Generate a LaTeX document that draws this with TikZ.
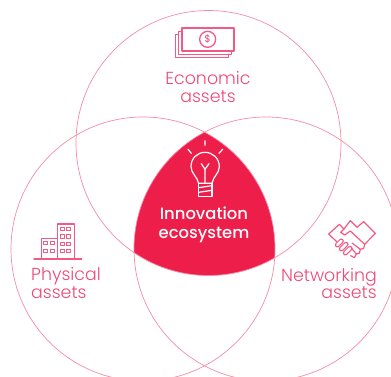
\documentclass[tikz,border=0pt]{standalone}
\usepackage{fontspec}
\setmainfont{Poppins Light}
\newfontfamily\boldish{Poppins Medium}
\definecolor{hot}{HTML}{EE1E4B}
\definecolor{ring}{HTML}{F28DA8}
\definecolor{ink}{HTML}{EE4A76}
\definecolor{icon}{HTML}{F25A84}
\tikzset{
  ringline/.style={draw=ring,line width=0.7pt},
  lab/.style={text=ink,font=\fontsize{17.4}{18}\selectfont,anchor=base,inner sep=0pt},
  core/.style={text=white,font=\boldish\fontsize{16.4}{18}\selectfont,anchor=base,inner sep=0pt},
  iconline/.style={draw=icon,line width=1.2pt,line join=round,line cap=round},
  bulbline/.style={draw=white,line width=1.2pt,line join=round,line cap=round},
  capouter/.style={draw=icon,line width=5pt,line cap=round},
  capinner/.style={draw=white,line width=2.6pt,line cap=round}
}
\begin{document}
\begin{tikzpicture}[x=1pt,y=-1pt]
\useasboundingbox (0,0) rectangle (391,377);
\begin{scope}
\clip (0,0) rectangle (391,377);
\begin{scope}
\clip (143,249) circle[radius=132];
\clip (266,249) circle[radius=132];
\fill[hot] (208.5,143) circle[radius=132.5];
\end{scope}
\draw[ringline] (208.5,143) circle[radius=132.5];
\draw[ringline] (143,249) circle[radius=132];
\draw[ringline] (266,249) circle[radius=132];
\end{scope}
% money
\begin{scope}[shift={(130,0)},x=0.3333pt,y=-0.3333pt]
\draw[iconline,line width=0.9pt] (146,104)--(137,104)--(137,172)--(295,172)--(295,162);
\draw[iconline,line width=0.9pt] (155,95)--(146,95)--(146,162)--(303,162)--(303,152);
\draw[iconline,line width=1.7pt] (155,85) rectangle (312,152);
\draw[iconline,line width=1.3pt] (233,118) circle[radius=24];
\end{scope}
\node[text=icon,font=\boldish\fontsize{10}{10}\selectfont,inner sep=0pt] (dollar) at (207.7,39.5) {\$};
% bulb
\begin{scope}[shift={(120,120)},x=0.3333pt,y=-0.3333pt]
\draw[bulbline] (236,190) .. controls (232,170) and (213,160) .. (213,140)
  .. controls (213,115) and (232,97) .. (255,97)
  .. controls (278,97) and (298,115) .. (298,140)
  .. controls (298,160) and (279,170) .. (276,190) -- cycle;
\draw[bulbline] (236,190) rectangle (276,230);
\draw[bulbline] (236,203)--(276,197) (236,217)--(276,211);
\draw[bulbline] (255,190)--(255,148)--(244,131) (255,148)--(267,131);
\draw[bulbline] (255,62)--(255,76) (204,88)--(214,100) (308,88)--(297,100);
\end{scope}
% building
\begin{scope}[shift={(0,210)},x=0.3333pt,y=-0.3333pt]
\draw[iconline] (102,147)--(245,147);
\draw[iconline] (172,147)--(172,42)--(223,42)--(223,147);
\draw[iconline] (124,147)--(124,86)--(172,86);
\foreach \wx in {187,206}\foreach \wy in {58,80,102,124}
  \draw[iconline,line width=1pt] (\wx-6,\wy-5) rectangle (\wx+6,\wy+5);
\foreach \wx in {138,157}\foreach \wy in {100,123}
  \draw[iconline,line width=1pt] (\wx-6,\wy-5) rectangle (\wx+6,\wy+5);
\end{scope}
% handshake
\begin{scope}[shift={(322,215)},x=0.3333pt,y=-0.3333pt]
\draw[iconline] (44,80)--(20,57)--(52,28)--(66,42)--(85,17)--(105,37)--(125,20)--(160,55)--(128,88)
  --(125,100)--(115,103)--(112,115)--(103,117)--(97,128)--(86,122);
\draw[iconline] (66,42)--(56,52)--(68,60)--(85,48)--(128,88);
\draw[iconline] (90,84)--(115,103) (84,94)--(103,117);
\draw[capouter] (46,90)--(58,78);
\draw[capinner] (46,90)--(58,78);
\draw[capouter] (58,102)--(72,88);
\draw[capinner] (58,102)--(72,88);
\draw[capouter] (70,114)--(84,100);
\draw[capinner] (70,114)--(84,100);
\end{scope}
% labels
\node[lab] (econ) at (208,85) {Economic};
\node[lab] (econb) at (208,103) {assets};
\node[lab,anchor=base west] (phys) at (31,280) {Physical};
\node[lab,anchor=base west] (physb) at (31,298) {assets};
\node[lab,anchor=base east] (netw) at (377,281) {Networking};
\node[lab,anchor=base east] (netwb) at (377,298) {assets};
\node[core] (inno) at (204,219) {Innovation};
\node[core] (ecos) at (204,238) {ecosystem};
\end{tikzpicture}
\end{document}
